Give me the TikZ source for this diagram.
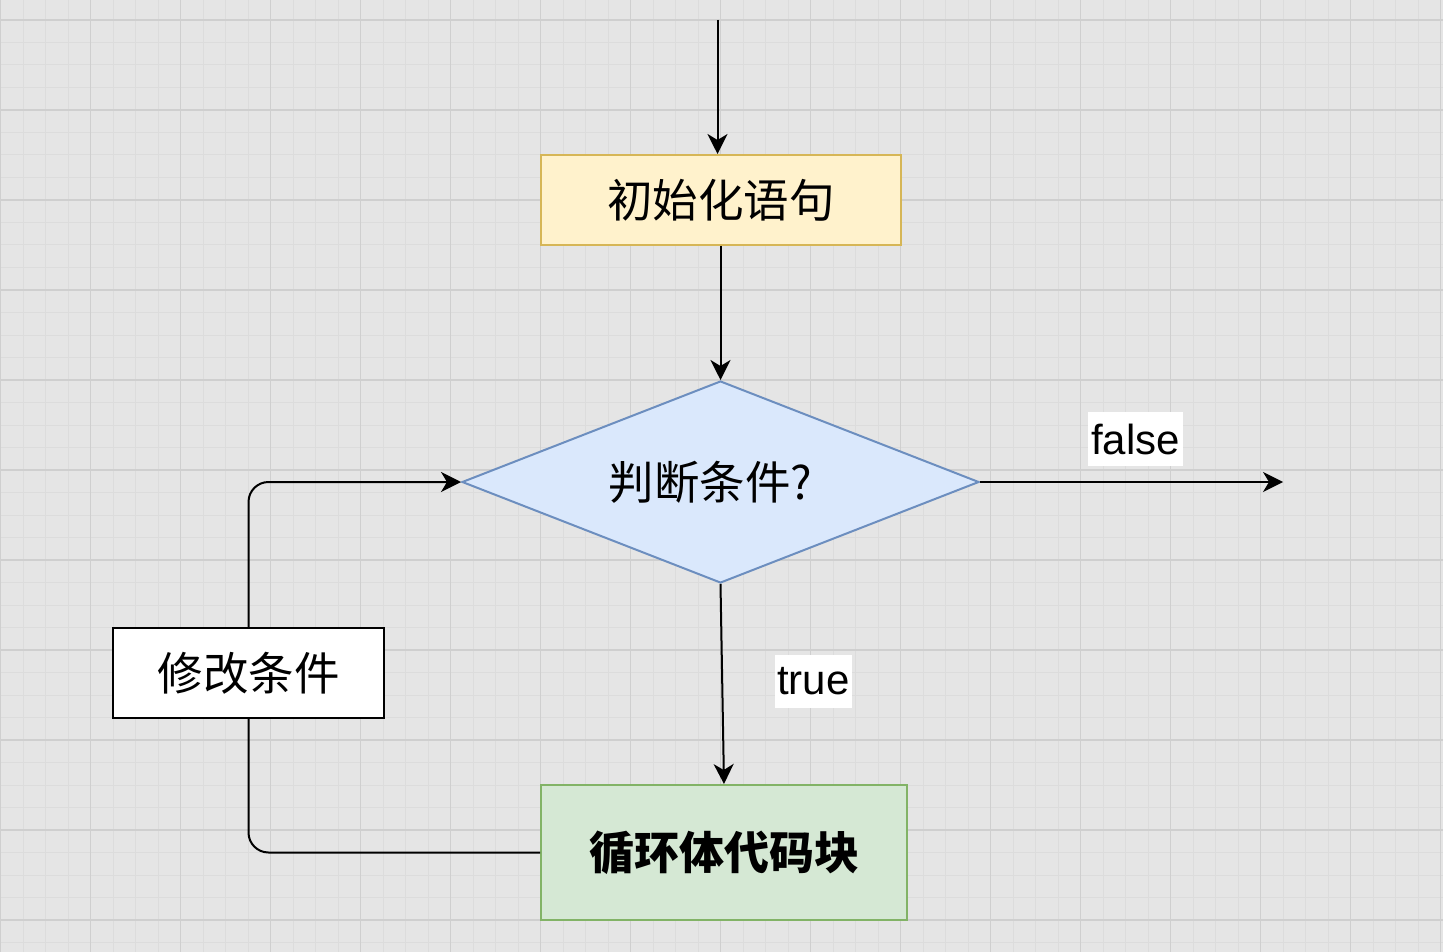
\documentclass[tikz,border=0pt]{standalone}
\usepackage{fontspec}
\setmainfont{Liberation Sans}
\newfontfamily\cjk{Noto Sans CJK SC}
\usetikzlibrary{arrows.meta,shapes.geometric}
\definecolor{bgc}{HTML}{E5E5E5}
\definecolor{minorc}{HTML}{DCDCDC}
\definecolor{majorc}{HTML}{CFCFCF}
\definecolor{initfill}{HTML}{FFF2CC}
\definecolor{initdraw}{HTML}{D6B656}
\definecolor{diafill}{HTML}{DAE8FC}
\definecolor{diadraw}{HTML}{6C8EBF}
\definecolor{bodyfill}{HTML}{D5E8D4}
\definecolor{bodydraw}{HTML}{82B366}
\tikzset{
  minorline/.style={draw=minorc, line width=1pt},
  majorline/.style={draw=majorc, line width=1.3pt},
  cjktext/.style={font=\cjk\fontsize{45.5}{52}\selectfont, text=black},
  box/.style={rectangle, line width=2pt, inner sep=0pt, cjktext},
  initbox/.style={box, fill=initfill, draw=initdraw, minimum width=360pt, minimum height=90pt},
  modbox/.style={box, fill=white, draw=black, minimum width=271pt, minimum height=90pt},
  bodybox/.style={box, fill=bodyfill, draw=bodydraw, minimum width=366pt, minimum height=135pt, font=\cjk\bfseries\fontsize{45}{52}\selectfont},
  decision/.style={diamond, aspect=2.56, inner sep=0pt, line width=2pt, fill=diafill, draw=diadraw, minimum width=517pt, minimum height=202pt, cjktext},
  lbl/.style={rectangle, fill=white, inner sep=0pt, font=\fontsize{42}{50}\selectfont, text=black},
  conn/.style={draw=black, line width=2pt},
  arr/.style={conn, -{Stealth[length=20pt, width=20pt, inset=6pt]}},
}
\begin{document}
\begin{tikzpicture}[x=1pt, y=-1pt]
\fill[bgc] (0,0) rectangle (1443,952);
\useasboundingbox (0,0) rectangle (1443,952);
% grid
\foreach \i in {0,...,64} { \draw[minorline] ({0.5+22.5*\i},0) -- ({0.5+22.5*\i},952); }
\foreach \i in {0,...,43} { \draw[minorline] (0,{-2.5+22.5*\i}) -- (1443,{-2.5+22.5*\i}); }
\foreach \i in {0,...,16} { \draw[majorline] ({0.5+90*\i},0) -- ({0.5+90*\i},952); }
\foreach \i in {0,...,10} { \draw[majorline] (0,{20+90*\i}) -- (1443,{20+90*\i}); }
% nodes
\node[initbox] (init) at (721,200) {初始化语句};
\node[decision] (dia) at (720.5,482) {判断条件?\kern20pt};
\node[modbox] (mod) at (248.5,673) {修改条件};
\node[bodybox] (body) at (724,852.5) {循环体代码块};
\coordinate (topin) at (717.5,20);
\coordinate (falseend) at (1283,482);
% connectors
\draw[arr] (topin) -- (topin |- init.north);
\draw[arr] (init.south -| dia.north) -- (dia.north);
\draw[arr] (dia.south) -- (body.north);
\draw[arr] (dia.east) -- (falseend);
\draw[conn, rounded corners=20pt] (body.west) -| (mod.south);
\draw[arr, rounded corners=20pt] (mod.north) |- (dia.west);
% labels
\node[lbl, minimum width=95pt, minimum height=54pt] (flbl) at (1135.5,439) {false};
\node[lbl, minimum width=77pt, minimum height=53pt] (tlbl) at (813.5,681.5) {true};
\end{tikzpicture}
\end{document}
